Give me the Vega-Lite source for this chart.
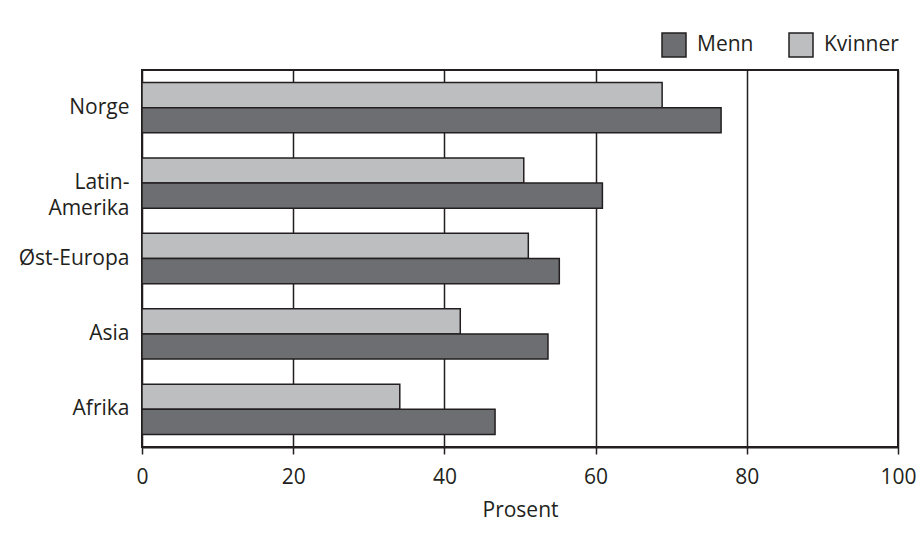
{
  "$schema": "https://vega.github.io/schema/vega-lite/v6.json",
  "width": 756,
  "height": 377,
  "autosize": {"type": "none"},
  "padding": {"left": 142, "top": 70, "right": 23, "bottom": 96},
  "background": "white",
  "config": {
    "view": {"stroke": "#231f20", "strokeWidth": 2},
    "font": "Open Sans"
  },
  "data": {
    "values": [
      {"region": "Norge", "kjonn": "Kvinner", "prosent": 68.8},
      {"region": "Norge", "kjonn": "Menn", "prosent": 76.6},
      {"region": "Latin-Amerika", "kjonn": "Kvinner", "prosent": 50.5},
      {"region": "Latin-Amerika", "kjonn": "Menn", "prosent": 60.9},
      {"region": "Øst-Europa", "kjonn": "Kvinner", "prosent": 51.1},
      {"region": "Øst-Europa", "kjonn": "Menn", "prosent": 55.2},
      {"region": "Asia", "kjonn": "Kvinner", "prosent": 42.1},
      {"region": "Asia", "kjonn": "Menn", "prosent": 53.7},
      {"region": "Afrika", "kjonn": "Kvinner", "prosent": 34.1},
      {"region": "Afrika", "kjonn": "Menn", "prosent": 46.7}
    ]
  },
  "mark": {"type": "bar", "stroke": "#231f20", "strokeWidth": 1.5},
  "encoding": {
    "y": {
      "field": "region",
      "type": "nominal",
      "sort": ["Norge", "Latin-Amerika", "Øst-Europa", "Asia", "Afrika"],
      "scale": {"paddingInner": 0.333, "paddingOuter": 0.166},
      "axis": {
        "title": null,
        "ticks": false,
        "domain": false,
        "labelFontSize": 21,
        "labelColor": "#231f20",
        "labelPadding": 13,
        "labelLineHeight": 26,
        "labelExpr": "datum.label == 'Latin-Amerika' ? ['Latin-', 'Amerika'] : datum.label"
      }
    },
    "yOffset": {
      "field": "kjonn",
      "sort": ["Kvinner", "Menn"],
      "scale": {"paddingInner": 0, "paddingOuter": 0}
    },
    "x": {
      "field": "prosent",
      "type": "quantitative",
      "scale": {"domain": [0, 100], "nice": false},
      "axis": {
        "values": [0, 20, 40, 60, 80, 100],
        "grid": true,
        "gridColor": "#231f20",
        "gridWidth": 1.5,
        "gridOpacity": 1,
        "domainColor": "#231f20",
        "domainWidth": 2,
        "tickColor": "#231f20",
        "tickSize": 7,
        "tickWidth": 1.5,
        "labelFontSize": 21,
        "labelColor": "#231f20",
        "labelPadding": 12,
        "labelFlush": false,
        "labelOverlap": false,
        "title": "Prosent",
        "titleFontSize": 21,
        "titleFontWeight": "normal",
        "titleColor": "#231f20",
        "titlePadding": 12
      }
    },
    "color": {
      "field": "kjonn",
      "type": "nominal",
      "scale": {"domain": ["Menn", "Kvinner"], "range": ["#6d6e71", "#bcbec0"]},
      "legend": {
        "orient": "none",
        "legendX": 519,
        "legendY": -38,
        "direction": "horizontal",
        "title": null,
        "symbolType": "square",
        "symbolSize": 576,
        "symbolStrokeColor": "#231f20",
        "symbolStrokeWidth": 1.5,
        "symbolOpacity": 1,
        "labelFontSize": 21,
        "labelColor": "#231f20",
        "labelOffset": 10,
        "columnPadding": 32
      }
    }
  }
}
